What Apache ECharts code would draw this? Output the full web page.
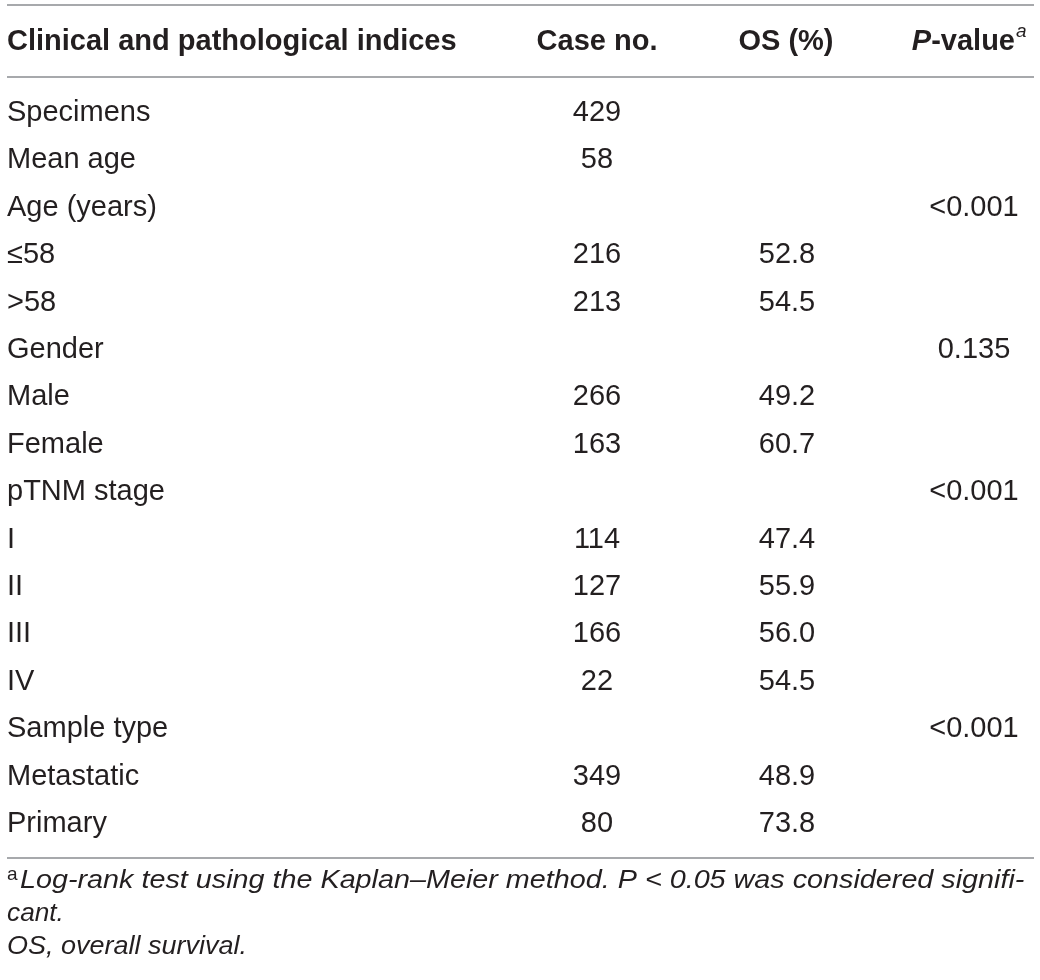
<!DOCTYPE html>
<html>
<head>
<meta charset="utf-8">
<script src="https://cdn.jsdelivr.net/npm/echarts@6/dist/echarts.min.js"></script>
<style>
html,body{margin:0;padding:0;background:#fff;}
#chart{width:1040px;height:980px;}
</style>
</head>
<body>
<div id="chart"></div>
<script>
// ---- table data ----
const rowLabels = ['Specimens','Mean age','Age (years)','\u226458','>58','Gender','Male','Female','pTNM stage','I','II','III','IV','Sample type','Metastatic','Primary'];
const caseNo   = ['429','58','','216','213','','266','163','','114','127','166','22','','349','80'];
const osPct    = ['','','','52.8','54.5','','49.2','60.7','','47.4','55.9','56.0','54.5','','48.9','73.8'];
const pValue   = ['','','<0.001','','','0.135','','','<0.001','','','','','<0.001','',''];
const headers  = ['Clinical and pathological indices','Case no.','OS (%)','P-value'];
const footLine1 = 'Log-rank test using the Kaplan\u2013Meier method. P < 0.05 was considered signifi-';
const footLine2 = 'cant.';
const footLine3 = 'OS, overall survival.';

const FONT = '"Liberation Sans", Arial, Helvetica, sans-serif';
const TXT = '#231f20';
const ROW_H = 47.4;
const FIRST_ROW_Y = 113;
const gridTop = FIRST_ROW_Y - ROW_H / 2;
const gridH = ROW_H * rowLabels.length;

function colSeries(name, values, x) {
  const data = [];
  values.forEach((v, i) => { if (v !== '') data.push({ value: [x, i], txt: v }); });
  return {
    name, type: 'scatter', symbolSize: 0, silent: true, data,
    itemStyle: { opacity: 1, color: TXT },
    emphasis: { disabled: true },
    label: {
      show: true, position: 'inside', formatter: p => p.data.txt,
      fontFamily: FONT, fontSize: 29, color: TXT, opacity: 1
    }
  };
}

const chart = echarts.init(document.getElementById('chart'), null, { renderer: 'canvas' });
const lineStyle = { stroke: '#a7a9ac', lineWidth: 2 };
const footStyle = { font: 'italic 25px ' + FONT, fill: TXT, align: 'left', verticalAlign: 'middle' };
chart.setOption({
  animation: false,
  grid: { left: 0, right: 0, top: gridTop, height: gridH },
  xAxis: { type: 'value', min: 0, max: 1040, show: false },
  yAxis: {
    type: 'category', inverse: true, data: rowLabels,
    axisLine: { show: false }, axisTick: { show: false }, splitLine: { show: false },
    axisLabel: { inside: true, margin: 7, align: 'left', fontFamily: FONT, fontSize: 29, color: TXT }
  },
  series: [
    colSeries('Case no.', caseNo, 597),
    colSeries('OS (%)', osPct, 787),
    colSeries('P-value', pValue, 974)
  ],
  graphic: [
    { type: 'line', shape: { x1: 7, y1: 5, x2: 1034, y2: 5 }, style: lineStyle },
    { type: 'line', shape: { x1: 7, y1: 77, x2: 1034, y2: 77 }, style: lineStyle },
    { type: 'line', shape: { x1: 7, y1: 858, x2: 1034, y2: 858 }, style: lineStyle },
    { type: 'text', x: 7, y: 42, style: { text: headers[0], font: 'bold 29px ' + FONT, fill: TXT, align: 'left', verticalAlign: 'middle' } },
    { type: 'text', x: 597, y: 42, style: { text: headers[1], font: 'bold 29px ' + FONT, fill: TXT, align: 'center', verticalAlign: 'middle' } },
    { type: 'text', x: 786, y: 42, style: { text: headers[2], font: 'bold 29px ' + FONT, fill: TXT, align: 'center', verticalAlign: 'middle' } },
    { type: 'text', x: 1015, y: 42, style: { text: '{i|P}{b|-value}', align: 'right', verticalAlign: 'middle',
        rich: { i: { fontFamily: FONT, fontSize: 29, fontWeight: 'bold', fontStyle: 'italic', fill: TXT },
                b: { fontFamily: FONT, fontSize: 29, fontWeight: 'bold', fill: TXT } } } },
    { type: 'text', x: 1016, y: 32, style: { text: 'a', font: 'italic 19px ' + FONT, fill: TXT, align: 'left', verticalAlign: 'middle' } },
    { type: 'text', x: 7, y: 875, style: { text: 'a', font: '19px ' + FONT, fill: TXT, align: 'left', verticalAlign: 'middle' } },
    { type: 'text', x: 20, y: 881, scaleX: 1.15, style: Object.assign({ text: footLine1 }, footStyle) },
    { type: 'text', x: 7, y: 914, scaleX: 1.05, style: Object.assign({ text: footLine2 }, footStyle) },
    { type: 'text', x: 7, y: 947, scaleX: 1.08, style: Object.assign({ text: footLine3 }, footStyle) }
  ]
});
</script>
</body>
</html>
